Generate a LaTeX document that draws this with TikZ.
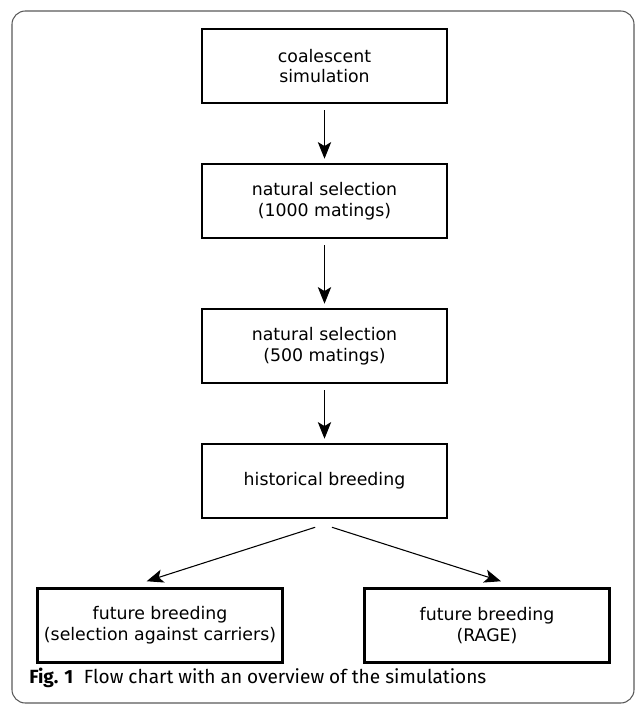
\documentclass[tikz,border=0pt]{standalone}
\usepackage{fontspec}
\setmainfont{Fira Sans}
\newfontfamily\boxfont{DejaVu Sans}
\usetikzlibrary{arrows.meta}
\begin{document}
\begin{tikzpicture}[x=0.75pt,y=-0.75pt,
    stage/.style={draw,line width=1.9pt,minimum width=183.75pt,minimum height=55.5pt,
        align=center,inner sep=0pt,font=\boxfont\fontsize{13}{15.5}\selectfont},
    flow/.style={-{Stealth[length=12.5pt,width=10pt,inset=3pt]},line width=0.8pt}]
    \useasboundingbox (0,0) rectangle (636,707);
    \draw[black!65,line width=0.8pt,rounded corners=10pt] (12,11) rectangle (634,703);
    % stages of the simulation
    \node[stage] (coal) at (324.5,66) {coalescent\\simulation};
    \node[stage] (ns1) at (324.5,201) {natural selection\\(1000 matings)};
    \node[stage] (ns2) at (324.5,346) {natural selection\\(500 matings)};
    \node[stage] (hist) at (324.5,481) {historical breeding};
    \node[stage] (fut1) at (160,625.5) {future breeding\\(selection against carriers)};
    \node[stage] (fut2) at (487,625.5) {future breeding\\(RAGE)};
    \foreach \a/\b in {coal/ns1,ns1/ns2,ns2/hist}
    \draw[flow,shorten <=4.5pt,shorten >=3pt] (\a.south) -- (\b.north);
    \draw[flow] ([xshift=-7pt,yshift=-6pt]hist.south) -- ([xshift=-10pt,yshift=4.5pt]fut1.north);
    \draw[flow] ([xshift=5.6pt,yshift=-6pt]hist.south) -- ([xshift=10.5pt,yshift=4.5pt]fut2.north);
    % caption
    \node[anchor=base west,inner sep=0pt,font=\fontsize{14.3}{16}\selectfont] (cap) at (29,683)
        {\textbf{Fig. 1}\hspace{8pt}Flow chart with an overview of the simulations};
\end{tikzpicture}
\end{document}
